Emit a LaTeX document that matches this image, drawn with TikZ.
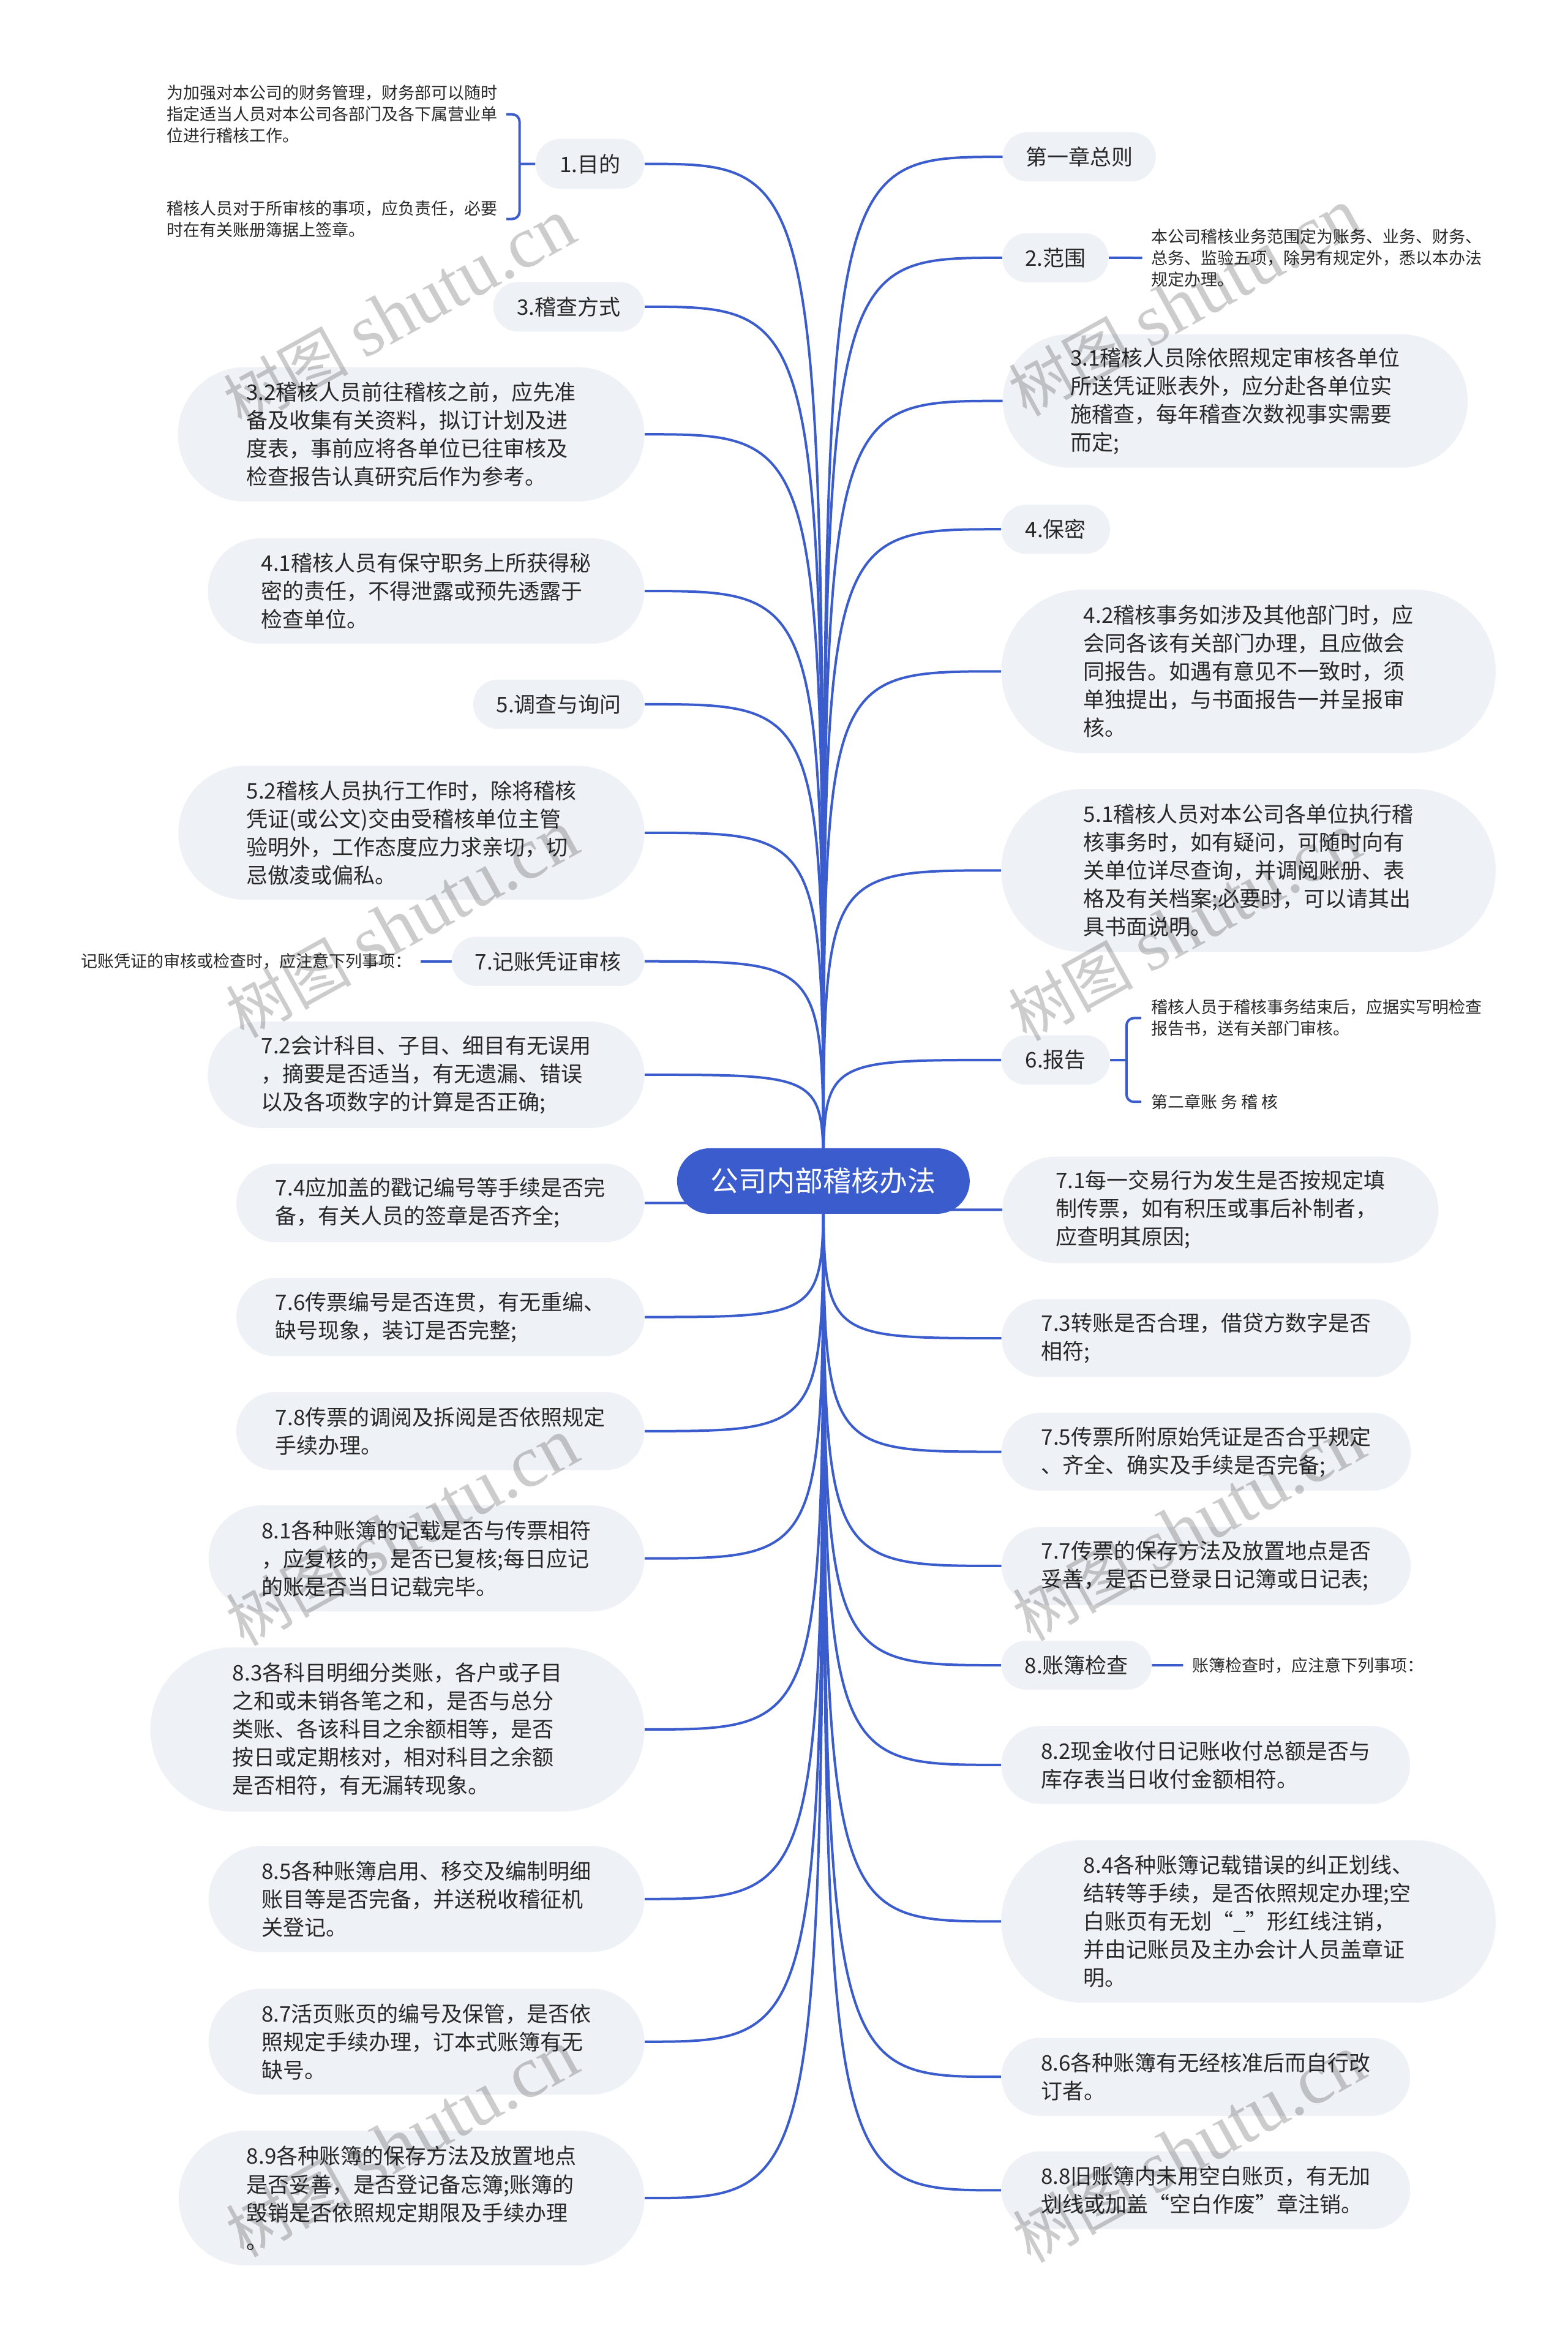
\documentclass[tikz,border=0pt]{standalone}
\usepackage{fontspec}
\setmainfont{Noto Sans CJK SC}
\newfontfamily\wmlatin{Liberation Serif}
\usetikzlibrary{shapes.misc,backgrounds,calc}
\definecolor{mblue}{RGB}{59,92,204}
\definecolor{pillbg}{RGB}{238,241,245}
\definecolor{ink}{RGB}{40,40,40}
\tikzset{
  pillnode/.style={rounded rectangle, fill=pillbg, text=ink, font=\fontsize{35}{46}\selectfont, align=left, inner sep=0pt},
  descr/.style={text=ink, font=\fontsize{27}{35}\selectfont, align=left, inner sep=0pt, anchor=west},
  conn/.style={draw=mblue, line width=4pt},
  rootnode/.style={rounded rectangle, fill=mblue, text=white, font=\fontsize{46}{56}\selectfont, inner sep=0pt, minimum width=478pt, minimum height=107pt},
  wmark/.style={text=black, text opacity=0.2, rotate=29, inner sep=0pt}
}
\newcommand{\mypill}[6]{%
  \pgfmathsetmacro{\pw}{(#4-#2)*2.4335}%
  \pgfmathsetmacro{\ph}{(#5-#3)*2.4335}%
  \node[pillnode, minimum width=\pw pt, minimum height=\ph pt] (#1) at ({(#2+#4)/2},{(#3+#5)/2}) {#6};%
}
\newcommand{\wmtext}{{\fontsize{102}{102}\selectfont 树图}\hspace{26pt}{\wmlatin\fontsize{120}{120}\selectfont shutu.cn}}
\begin{document}
\begin{tikzpicture}[x=2.4335pt, y=-2.4335pt]
\useasboundingbox (0,0) rectangle (1052,1568);

% root
\node[rootnode] (root) at (552.6,792.4) {公司内部稽核办法};

% right side
\mypill{p0}{673}{88.7}{775.7}{121.8}{第一章总则}
\mypill{p2}{672.7}{156.4}{744}{189.5}{2.范围}
\mypill{p31}{673}{224.2}{985}{313.8}{3.1稽核人员除依照规定审核各单位\\所送凭证账表外，应分赴各单位实\\施稽查，每年稽查次数视事实需要\\而定;}
\mypill{p4}{672}{338.6}{745}{371.6}{4.保密}
\mypill{p42}{672}{395.6}{1003.8}{505.3}{4.2稽核事务如涉及其他部门时，应\\会同各该有关部门办理，且应做会\\同报告。如遇有意见不一致时，须\\单独提出，与书面报告一并呈报审\\核。}
\mypill{p51}{672}{529.3}{1003.8}{638.7}{5.1稽核人员对本公司各单位执行稽\\核事务时，如有疑问，可随时向有\\关单位详尽查询，并调阅账册、表\\格及有关档案;必要时，可以请其出\\具书面说明。}
\mypill{p6}{672}{694.6}{745}{727.8}{6.报告}
\mypill{p71}{672.8}{776}{965.3}{847.4}{7.1每一交易行为发生是否按规定填\\制传票，如有积压或事后补制者，\\应查明其原因;}
\mypill{p73}{672.2}{871.7}{946.8}{924}{7.3转账是否合理，借贷方数字是否\\相符;}
\mypill{p75}{672.2}{947.9}{946.8}{1000.2}{7.5传票所附原始凭证是否合乎规定\\、齐全、确实及手续是否完备;}
\mypill{p77}{672.2}{1024.5}{946.8}{1076.8}{7.7传票的保存方法及放置地点是否\\妥善，是否已登录日记簿或日记表;}
\mypill{p8}{672}{1100.9}{773}{1133.6}{8.账簿检查}
\mypill{p82}{672}{1158}{946.4}{1210.3}{8.2现金收付日记账收付总额是否与\\库存表当日收付金额相符。}
\mypill{p84}{672}{1234.6}{1003.8}{1343.7}{8.4各种账簿记载错误的纠正划线、\\结转等手续，是否依照规定办理;空\\白账页有无划“\_”形红线注销，\\并由记账员及主办会计人员盖章证\\明。}
\mypill{p86}{672}{1367.3}{946.4}{1419.6}{8.6各种账簿有无经核准后而自行改\\订者。}
\mypill{p88}{672}{1443.4}{946.4}{1495.7}{8.8旧账簿内未用空白账页，有无加\\划线或加盖“空白作废”章注销。}

% left side
\mypill{p1}{359.4}{93.2}{432.5}{126.7}{1.目的}
\mypill{p3}{331}{189.2}{432.5}{222.4}{3.稽查方式}
\mypill{p32}{119.4}{246.3}{432.5}{336.5}{3.2稽核人员前往稽核之前，应先准\\备及收集有关资料，拟订计划及进\\度表，事前应将各单位已往审核及\\检查报告认真研究后作为参考。}
\mypill{p41}{139.5}{361.2}{432.5}{431.9}{4.1稽核人员有保守职务上所获得秘\\密的责任，不得泄露或预先透露于\\检查单位。}
\mypill{p5}{317.6}{456}{432.5}{489}{5.调查与询问}
\mypill{p52}{119.7}{513.8}{432.5}{603.7}{5.2稽核人员执行工作时，除将稽核\\凭证(或公文)交由受稽核单位主管\\验明外，工作态度应力求亲切，切\\忌傲凌或偏私。}
\mypill{p7}{303.2}{628.5}{432.5}{661.5}{7.记账凭证审核}
\mypill{p72}{139.4}{685.4}{432.5}{756.8}{7.2会计科目、子目、细目有无误用\\，摘要是否适当，有无遗漏、错误\\以及各项数字的计算是否正确;}
\mypill{p74}{158.6}{780.9}{432.5}{833.4}{7.4应加盖的戳记编号等手续是否完\\备，有关人员的签章是否齐全;}
\mypill{p76}{158.6}{857.4}{432.5}{909.9}{7.6传票编号是否连贯，有无重编、\\缺号现象，装订是否完整;}
\mypill{p78}{158.6}{934}{432.5}{986.4}{7.8传票的调阅及拆阅是否依照规定\\手续办理。}
\mypill{p81}{140}{1010}{432.5}{1081.2}{8.1各种账簿的记载是否与传票相符\\，应复核的，是否已复核;每日应记\\的账是否当日记载完毕。}
\mypill{p83}{101}{1105.3}{432.5}{1215.4}{8.3各科目明细分类账，各户或子目\\之和或未销各笔之和，是否与总分\\类账、各该科目之余额相等，是否\\按日或定期核对，相对科目之余额\\是否相符，有无漏转现象。}
\mypill{p85}{140}{1238.5}{432.5}{1309.7}{8.5各种账簿启用、移交及编制明细\\账目等是否完备，并送税收稽征机\\关登记。}
\mypill{p87}{140}{1334.3}{432.5}{1405.4}{8.7活页账页的编号及保管，是否依\\照规定手续办理，订本式账簿有无\\缺号。}
\mypill{p89}{119.9}{1429.6}{432.5}{1520}{8.9各种账簿的保存方法及放置地点\\是否妥善，是否登记备忘簿;账簿的\\毁销是否依照规定期限及手续办理\\。}

% descriptions
\node[descr] (d1a) at (111.7,76.7) {为加强对本公司的财务管理，财务部可以随时\\指定适当人员对本公司各部门及各下属营业单\\位进行稽核工作。};
\node[descr] (d1b) at (111.7,146.9) {稽核人员对于所审核的事项，应负责任，必要\\时在有关账册簿据上签章。};
\node[descr] (d2) at (772.6,173) {本公司稽核业务范围定为账务、业务、财务、\\总务、监验五项，除另有规定外，悉以本办法\\规定办理。};
\node[descr] (d6a) at (772.6,683.1) {稽核人员于稽核事务结束后，应据实写明检查\\报告书，送有关部门审核。};
\node[descr] (d6b) at (772.6,739.3) {第二章账 务 稽 核};
\node[descr] (d7) at (54.2,645) {记账凭证的审核或检查时，应注意下列事项：};
\node[descr] (d8) at (800,1117.3) {账簿检查时，应注意下列事项：};

\coordinate (j1) at (348.7,110);
\coordinate (j6) at (756,711.2);

\begin{scope}[on background layer]
  \fill[white] (0,0) rectangle (1052,1568);
  \foreach \n in {p0,p2,p31,p4,p42,p51,p6,p71,p73,p75,p77,p8,p82,p84,p86,p88}
    \draw[conn] (root.center) .. controls (root.center |- \n.west) .. (\n.west);
  \foreach \n in {p1,p3,p32,p41,p5,p52,p7,p72,p74,p76,p78,p81,p83,p85,p87,p89}
    \draw[conn] (root.center) .. controls (root.center |- \n.east) .. (\n.east);
  \draw[conn] (p1.west) -- (j1);
  \draw[conn, rounded corners=12pt] (j1) |- ($(d1a.east)+(6,0)$);
  \draw[conn, rounded corners=12pt] (j1) |- ($(d1b.east)+(6,0)$);
  \draw[conn] (p6.east) -- (j6);
  \draw[conn, rounded corners=12pt] (j6) |- ($(d6a.west)+(-6.6,0)$);
  \draw[conn, rounded corners=12pt] (j6) |- ($(d6b.west)+(-6.6,0)$);
  \draw[conn] (p2.east) -- ($(d2.west)+(-6,0)$);
  \draw[conn] (p7.west) -- ($(d7.east)+(6,0)$);
  \draw[conn] (p8.east) -- ($(d8.west)+(-6,0)$);
\end{scope}

% watermarks
\node[wmark] (wm1) at (268,210) {\wmtext};
\node[wmark] (wm2) at (795,203) {\wmtext};
\node[wmark] (wm3) at (270,620) {\wmtext};
\node[wmark] (wm4) at (795,622) {\wmtext};
\node[wmark] (wm5) at (270,1028) {\wmtext};
\node[wmark] (wm6) at (798,1025) {\wmtext};
\node[wmark] (wm7) at (270,1438) {\wmtext};
\node[wmark] (wm8) at (798,1442) {\wmtext};
\end{tikzpicture}
\end{document}
